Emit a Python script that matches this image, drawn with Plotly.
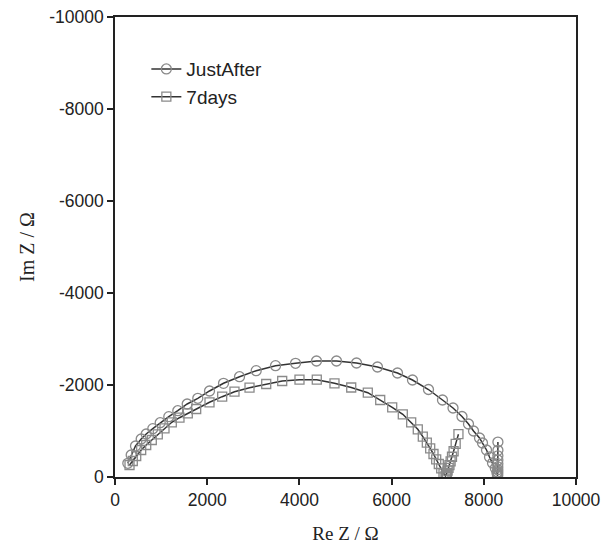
import plotly.graph_objects as go

# JustAfter (circles): Re Z, -Im Z (magnitude, plotted as negative Im Z)
just_re = [278, 351, 445, 568, 677, 820, 980, 1167, 1362, 1566, 1796, 2050, 2354, 2701,
           3063, 3482, 3916, 4371, 4805, 5239, 5694, 6128, 6453, 6800, 7104, 7332, 7527,
           7668, 7777, 7907, 7972, 8059, 8124, 8189, 8250, 8285, 8297,
           8300, 8302, 8303, 8304, 8304, 8305, 8305, 8305, 8306, 8306]
just_im = [298, 478, 674, 826, 935, 1050, 1180, 1311, 1441, 1587, 1711, 1870, 2037, 2180,
           2311, 2420, 2472, 2522, 2522, 2478, 2391, 2261, 2109, 1902, 1674, 1500, 1315,
           1152, 1000, 848, 739, 587, 435, 304, 190, 90, 22,
           40, 70, 110, 160, 220, 290, 370, 460, 580, 760]

# 7days (squares)
days_re = [315, 386, 460, 568, 677, 798, 928, 1074, 1232, 1399, 1579, 1761, 2050, 2325,
           2592, 2918, 3280, 3627, 4002, 4377, 4761, 5124, 5484, 5753, 6013, 6243, 6425,
           6568, 6677, 6764, 6837, 6909, 6967, 7024, 7076, 7126, 7169,
           7185, 7200, 7215, 7235, 7255, 7280, 7310, 7345, 7390, 7450]
days_im = [261, 348, 457, 587, 696, 804, 928, 1059, 1189, 1289, 1385, 1478, 1624, 1746,
           1854, 1941, 2022, 2087, 2115, 2115, 2037, 1946, 1833, 1674, 1515, 1363, 1189,
           1037, 876, 746, 624, 500, 385, 283, 189, 80, 22,
           45, 90, 140, 200, 260, 340, 440, 560, 720, 930]

series_names = ["JustAfter", "7days"]
tick_vals = [0, 2000, 4000, 6000, 8000, 10000]
x_tick_text = ["0", "2000", "4000", "6000", "8000", "10000"]
y_tick_vals = [0, -2000, -4000, -6000, -8000, -10000]
y_tick_text = ["0", "-2000", "-4000", "-6000", "-8000", "-10000"]

line_col = "#333333"
mark_col = "#8a8a8a"

fig = go.Figure()
fig.add_trace(go.Scatter(
    x=just_re, y=[-v for v in just_im], name=series_names[0], mode="lines+markers",
    line=dict(color=line_col, width=1.5),
    marker=dict(symbol="circle-open", size=10, color=mark_col, line=dict(width=1.3, color=mark_col)),
))
fig.add_trace(go.Scatter(
    x=days_re, y=[-v for v in days_im], name=series_names[1], mode="lines+markers",
    line=dict(color=line_col, width=1.5),
    marker=dict(symbol="square-open", size=9, color=mark_col, line=dict(width=1.3, color=mark_col)),
))

axis_common = dict(
    showgrid=False, zeroline=False, showline=True, linecolor="#222222", linewidth=1.5,
    mirror=True, ticks="outside", ticklen=6, tickwidth=1.5, tickcolor="#222222",
    automargin=False, ticklabeloverflow="allow",
    tickfont=dict(family="Liberation Sans, Arial, sans-serif", size=17.5, color="#222222"),
)

# page body has an 8px default margin; margins compensate for it
fig.update_layout(
    width=616, height=546,
    margin=dict(l=107, r=48, t=9, b=77),
    paper_bgcolor="white", plot_bgcolor="white",
    xaxis=dict(range=[0, 10000], tickvals=tick_vals, ticktext=x_tick_text,
               title=dict(text="Re Z / Ω", standoff=18,
                          font=dict(family="Liberation Serif, Times New Roman, serif", size=19, color="#222222")),
               **axis_common),
    yaxis=dict(range=[0, -10000], tickvals=y_tick_vals, ticktext=y_tick_text,
               title=dict(text="Im Z / Ω", standoff=9,
                          font=dict(family="Liberation Serif, Times New Roman, serif", size=20, color="#222222")),
               **axis_common),
    legend=dict(x=0.068, y=0.928, xanchor="left", yanchor="top", bgcolor="rgba(0,0,0,0)",
                font=dict(family="Liberation Sans, Arial, sans-serif", size=19, color="#222222"),
                itemwidth=30, tracegroupgap=0),
    showlegend=True,
)

fig.write_html("out.html")
